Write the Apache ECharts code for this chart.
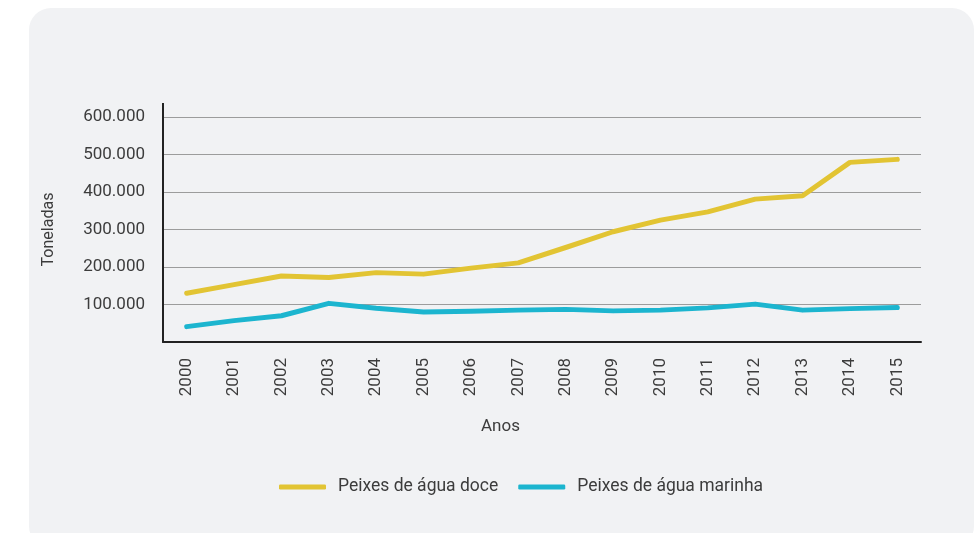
<!DOCTYPE html>
<html>
<head>
<meta charset="utf-8">
<script src="https://cdn.jsdelivr.net/npm/echarts@6/dist/echarts.min.js"></script>
<style>
    html, body { margin: 0; padding: 0; background: #fff; }
    #fishChart { width: 979px; height: 533px; }
</style>
</head>
<body>
<div id="fishChart"></div>
<script>
    // anos e produção em toneladas
    const years = ['2000', '2001', '2002', '2003', '2004', '2005', '2006', '2007',
        '2008', '2009', '2010', '2011', '2012', '2013', '2014', '2015'];
    const aguaDoce = [130000, 153000, 176000, 172000, 185000, 181000, 197000, 211000,
        252000, 294000, 325000, 347000, 381000, 390000, 479000, 487000];
    const aguaMarinha = [41000, 57000, 70000, 103000, 90000, 80000, 82000, 85000,
        87000, 83000, 85000, 91000, 101000, 85000, 89000, 92000];
    const seriesNames = ['Peixes de água doce', 'Peixes de água marinha'];

    const textColor = '#3c3c3c';
    const font = 'Roboto';

    function fmt (v) {
        if (v === 0) return '';
        return String(v).replace(/\B(?=(\d{3})+(?!\d))/g, '.');
    }

    const chart = echarts.init(document.getElementById('fishChart'));
    const option = {
        animation: false,
        graphic: [
            {
                type: 'rect',
                z: -10,
                shape: { x: 29, y: 8, width: 945, height: 540, r: 22 },
                style: { fill: '#f1f2f4' }
            },
            {
                // prolongamento do eixo acima da última linha
                type: 'line',
                shape: { x1: 163, y1: 103, x2: 163, y2: 118 },
                style: { stroke: '#222', lineWidth: 2 }
            },
            {
                type: 'text',
                left: 481,
                top: 418,
                style: { text: 'Anos', fill: textColor, font: '17px Roboto' }
            }
        ],
        grid: {
            left: 163,
            right: 58,
            top: 117,
            bottom: 191
        },
        legend: {
            data: seriesNames,
            left: 274,
            top: 473,
            icon: 'roundRect',
            itemWidth: 47,
            itemHeight: 5,
            itemGap: 20,
            textStyle: {
                color: textColor,
                fontFamily: font,
                fontSize: 17.5,
                padding: [0, 0, 0, 7]
            }
        },
        xAxis: {
            type: 'category',
            data: years,
            boundaryGap: true,
            axisLine: { lineStyle: { color: '#222', width: 2 } },
            axisTick: { show: false },
            axisLabel: {
                rotate: 90,
                margin: 16,
                color: textColor,
                fontFamily: font,
                fontSize: 17,
                interval: 0
            }
        },
        yAxis: {
            type: 'value',
            min: 0,
            max: 600000,
            interval: 100000,
            name: 'Toneladas',
            nameLocation: 'middle',
            nameRotate: 90,
            nameGap: 106,
            nameTextStyle: { color: textColor, fontFamily: font, fontSize: 16 },
            axisLine: { show: true, lineStyle: { color: '#222', width: 2 } },
            axisTick: { show: false },
            axisLabel: {
                formatter: fmt,
                margin: 18,
                color: textColor,
                fontFamily: font,
                fontSize: 17
            },
            splitLine: { lineStyle: { color: '#9c9c9c', width: 1 } }
        },
        series: [
            {
                name: seriesNames[0],
                type: 'line',
                data: aguaDoce,
                symbol: 'none',
                color: '#e2c433',
                lineStyle: { width: 5, color: '#e2c433', cap: 'round', join: 'round' }
            },
            {
                name: seriesNames[1],
                type: 'line',
                data: aguaMarinha,
                symbol: 'none',
                color: '#1cb5cf',
                lineStyle: { width: 5, color: '#1cb5cf', cap: 'round', join: 'round' }
            }
        ]
    };
    chart.setOption(option);
</script>
</body>
</html>
